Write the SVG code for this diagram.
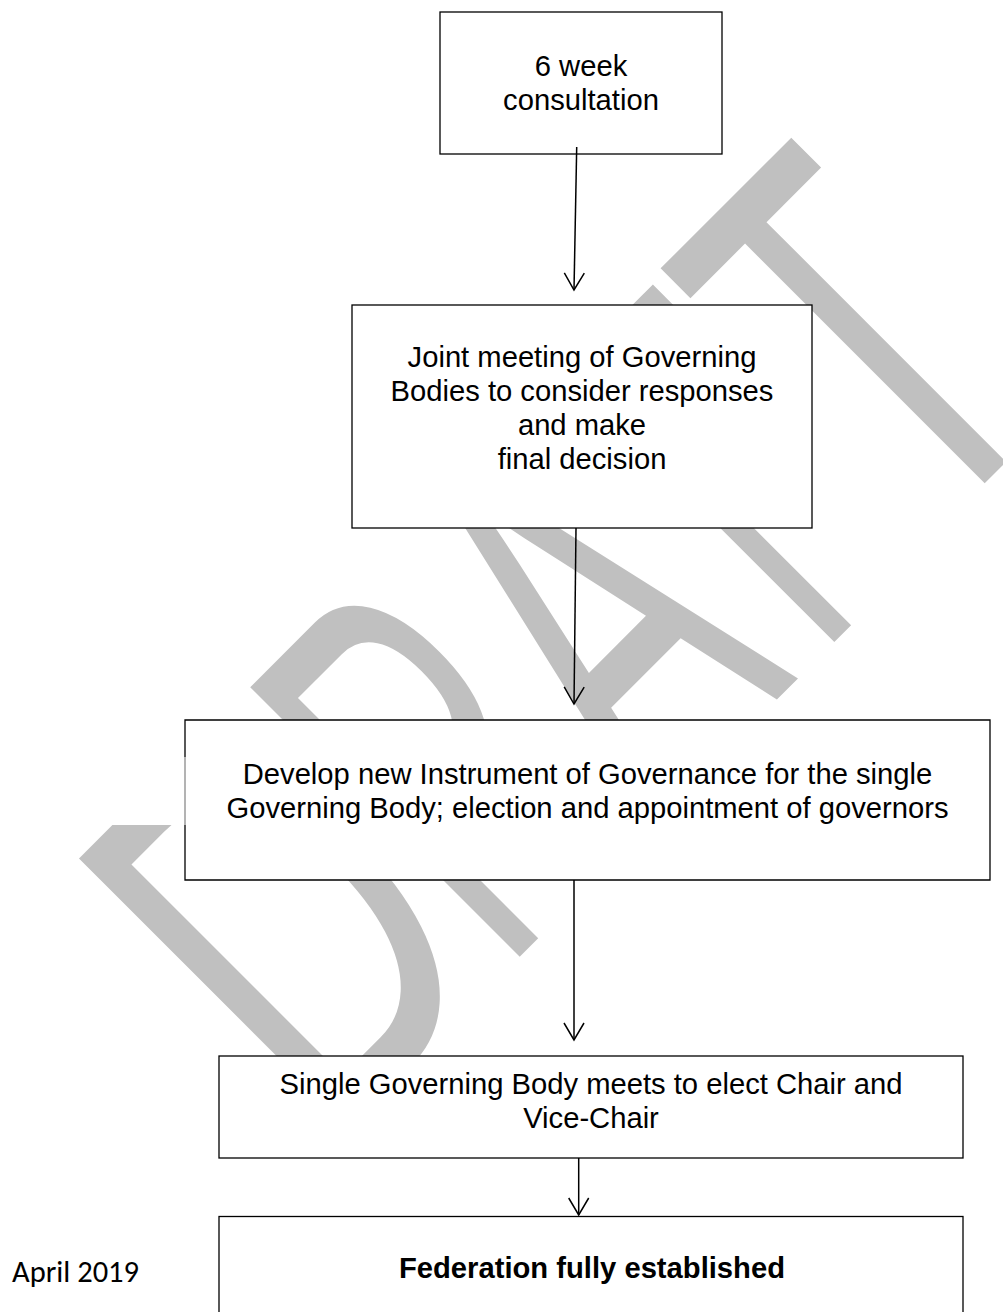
<svg xmlns="http://www.w3.org/2000/svg" width="1003" height="1312" viewBox="0 0 1003 1312">
<defs>
<style>
.box{fill:#fff;stroke:#000;stroke-width:1.3}
.fillw{fill:#fff;stroke:none}
.edge{fill:none;stroke:#000;stroke-width:1.3}
.t{font-family:"Liberation Sans",Arial,sans-serif;font-size:29.2px;fill:#000;text-anchor:middle}
.b{font-weight:bold}
.side{font-family:Carlito,Lato,"Open Sans",sans-serif;font-size:30.5px;fill:#000}
.wm{font-family:"Liberation Sans",Arial,sans-serif;font-size:554px;fill:#c0c0c0}
.c{fill:none;stroke:#000;stroke-width:1.5}
</style>
<marker id="ah" markerUnits="userSpaceOnUse" markerWidth="24" markerHeight="24" viewBox="-20 -12 24 24" refX="0" refY="0" orient="auto">
<path d="M-17,-10 L0,0 L-17,10" fill="none" stroke="#000" stroke-width="1.5"/>
</marker>
<clipPath id="wmclip"><path clip-rule="evenodd" d="M0,0H1003V1312H0Z M0,0V825H190V0Z"/></clipPath>
</defs>
<rect width="1003" height="1312" fill="#fff"/>
<g id="watermark" clip-path="url(#wmclip)">
<g transform="rotate(-45)">
<text class="wm" transform="translate(-580,1044) scale(0.635,1)">D</text>
<text class="wm" transform="translate(-332,1044) scale(0.506,1)">R</text>
<text class="wm" transform="translate(-124,1044) scale(0.566,1)">A</text>
<text class="wm" transform="translate(115,1044) scale(0.46,1)">F</text>
<text class="wm" transform="translate(270,1038) scale(0.59,1)">T</text>
</g>
</g>
<g id="node1">
<rect class="box" x="440" y="12" width="282" height="142"/>
<text class="t" x="581" y="76">6 week</text>
<text class="t" x="581" y="110">consultation</text>
</g>
<g id="node2">
<rect class="box" x="352" y="305" width="460" height="223"/>
<text class="t" x="582" y="367">Joint meeting of Governing</text>
<text class="t" x="582" y="401">Bodies to consider responses</text>
<text class="t" x="582" y="435">and make</text>
<text class="t" x="582" y="469">final decision</text>
</g>
<g id="node3">
<rect class="fillw" x="185" y="720" width="805" height="160"/>
<path class="edge" d="M185,757V720H990V880H185V825"/>
<path d="M185,757V825" fill="none" stroke="#000" stroke-width="0.6"/>
<text class="t" x="587.5" y="784">Develop new Instrument of Governance for the single</text>
<text class="t" x="587.5" y="818">Governing Body; election and appointment of governors</text>
</g>
<g id="node4">
<rect class="box" x="219" y="1056" width="744" height="102"/>
<text class="t" x="591" y="1094">Single Governing Body meets to elect Chair and</text>
<text class="t" x="591" y="1128">Vice-Chair</text>
</g>
<g id="node5">
<rect class="box" x="219" y="1216.5" width="744" height="120"/>
<text class="t b" x="592" y="1278">Federation fully established</text>
</g>
<g id="label-date">
<text class="side" x="12" y="1282">April 2019</text>
</g>
<g id="connectors">
<path class="c" d="M576.7,147 L574,290" marker-end="url(#ah)"/>
<path class="c" d="M576,528 L574,704" marker-end="url(#ah)"/>
<path class="c" d="M574,880 L574,1040" marker-end="url(#ah)"/>
<path class="c" d="M578.7,1158 L578.7,1215" marker-end="url(#ah)"/>
</g>
</svg>
